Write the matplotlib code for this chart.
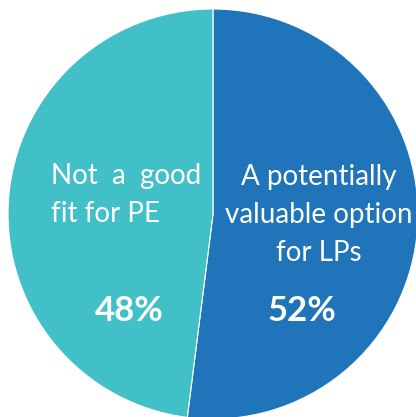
import matplotlib.pyplot as plt

labels = ["A potentially\nvaluable option\nfor LPs", "Not  a  good\nfit for PE"]
shares = [52, 48]
colors = ["#1f74ba", "#41c0c8"]

W, H = 416, 417
fig = plt.figure(figsize=(W / 100, H / 100), dpi=100)
ax = fig.add_axes([0, 0, 1, 1])

cx, cy, r = 213, H - 214, 205
ax.pie(shares, colors=colors, startangle=90, counterclock=False,
       center=(cx, cy), radius=r, frame=True,
       wedgeprops=dict(edgecolor="white", linewidth=0.8))
ax.set_xlim(0, W)
ax.set_ylim(0, H)
ax.set_aspect("equal")
ax.axis("off")

font = "Lato"
ax.text(319, H - 215, labels[0], ha="center", va="center", color="white",
        fontsize=20, family=font, linespacing=1.55)
ax.text(51, H - 195, labels[1], ha="left", va="center", color="white",
        fontsize=20, family=font, linespacing=1.55)
ax.text(302, H - 311, f"{shares[0]}%", ha="center", va="center", color="white",
        fontsize=25, family=font, fontweight="bold")
ax.text(129, H - 311, f"{shares[1]}%", ha="center", va="center", color="white",
        fontsize=25, family=font, fontweight="bold")

fig.savefig("out.png", dpi=100)
